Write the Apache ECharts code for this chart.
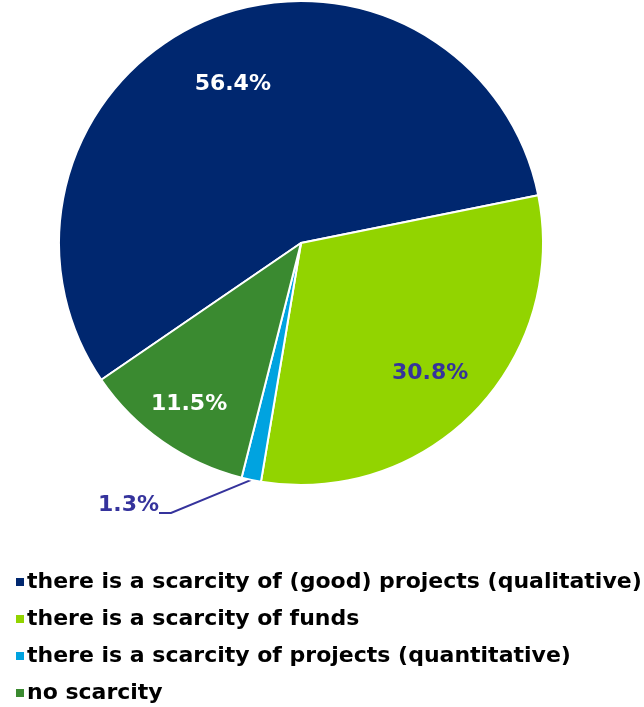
<!DOCTYPE html>
<html>
<head>
<meta charset="utf-8">
<script src="https://cdn.jsdelivr.net/npm/echarts@6/dist/echarts.min.js"></script>
<style>
  html, body { margin: 0; padding: 0; background: #ffffff; }
  #chart { width: 644px; height: 707px; }
</style>
</head>
<body>
<div id="chart"></div>
<script>
// Answers to: why are there not more investments?
const categories = [
  'there is a scarcity of (good) projects (qualitative)',
  'there is a scarcity of funds',
  'there is a scarcity of projects (quantitative)',
  'no scarcity'
];
const shares = [56.4, 30.8, 1.3, 11.5];
const colors = ['#00276f', '#92d400', '#00a3e0', '#3a8a30'];
const labelColors = ['#ffffff', '#35339c', '#35339c', '#ffffff'];

const FONT = 'DejaVu Sans, sans-serif';

// inside labels sit further out than the default mid-radius
const insideOffsets = [[-20, -44], [40, 44], null, [-41, 60]];

const data = categories.map((name, i) => {
  const item = {
    name: name,
    value: shares[i],
    itemStyle: { color: colors[i] },
    label: {
      color: labelColors[i],
      position: 'inside'
    }
  };
  if (insideOffsets[i]) {
    item.label.offset = insideOffsets[i];
  } else {
    // outside label; the empty second line lowers the leader line's anchor
    item.label.position = 'outside';
    item.label.formatter = (p) => p.value.toFixed(1) + '%\n';
    item.label.lineHeight = 16;
    item.labelLine = { show: true, length: 30, length2: 12, lineStyle: { color: '#35339c', width: 2 } };
  }
  return item;
});

const chart = echarts.init(document.getElementById('chart'), null, { renderer: 'canvas' });
chart.setOption({
  animation: false,
  backgroundColor: '#ffffff',
  legend: {
    orient: 'vertical',
    left: 9,
    top: 566,
    height: 140,
    itemWidth: 10,
    itemHeight: 10,
    itemGap: 15,
    icon: 'rect',
    textStyle: { fontFamily: FONT, fontSize: 22, fontWeight: 'bold', color: '#000000', padding: [0, 0, 0, -3] },
    data: categories
  },
  series: [{
    type: 'pie',
    center: [301, 243],
    radius: 242,
    startAngle: 214.4,
    clockwise: true,
    avoidLabelOverlap: false,
    itemStyle: { borderColor: '#ffffff', borderWidth: 2 },
    label: {
      show: true,
      formatter: (p) => p.value.toFixed(1) + '%',
      fontFamily: FONT,
      fontSize: 22,
      fontWeight: 'bold'
    },
    labelLayout: (params) => {
      if (params.dataIndex === 2) {
        return { x: 159, y: 497, align: 'right', verticalAlign: 'top' };
      }
      return {};
    },
    emphasis: { disabled: true },
    data: data
  }]
});
</script>
</body>
</html>
